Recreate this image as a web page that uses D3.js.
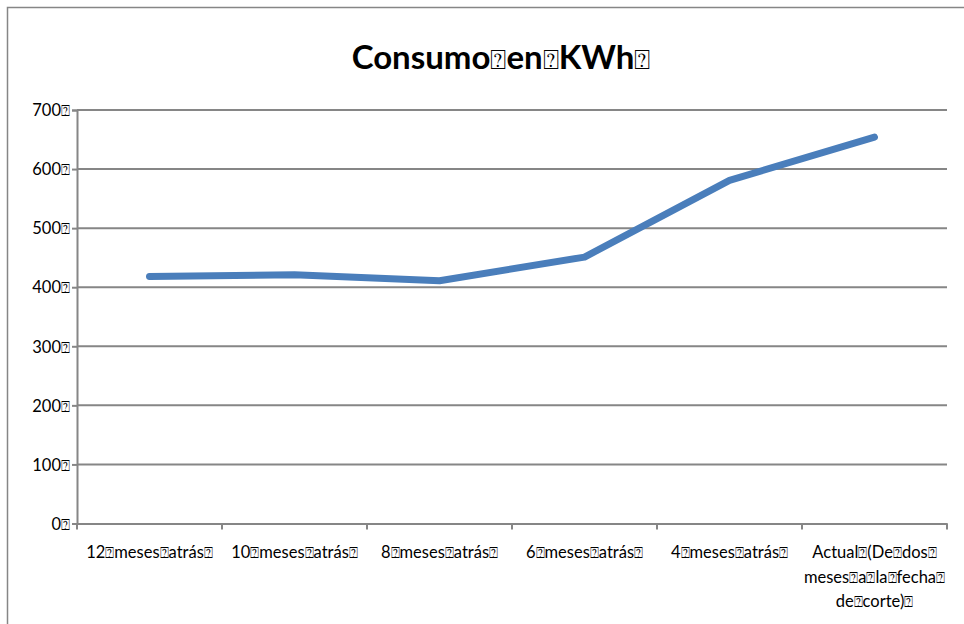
<!DOCTYPE html>
<html>
<head>
<meta charset="utf-8">
<script src="https://cdn.jsdelivr.net/npm/d3@7/dist/d3.min.js"></script>
<style>
  html, body { margin: 0; padding: 0; background: #fff; }
  svg { display: block; }
  text { font-family: Lato, "Open Sans", sans-serif; fill: #000; }
  .bx { font-family: "DejaVu Sans", sans-serif; font-weight: normal; }
</style>
</head>
<body>
<svg id="chart" width="964" height="624"></svg>
<script>
// ---- data ----
const title = "Consumo en KWh";
const categories = ["12 meses atrás", "10 meses atrás", "8 meses atrás", "6 meses atrás", "4 meses atrás", "Actual (De dos meses a la fecha de corte)"];
const categoryLines = [["12 meses atrás"], ["10 meses atrás"], ["8 meses atrás"], ["6 meses atrás"], ["4 meses atrás"], ["Actual (De dos", "meses a la fecha", "de corte)"]];
const values = [418, 421, 411, 451, 581, 654];
const yTicks = [0, 100, 200, 300, 400, 500, 600, 700];

(function() {
const svg = d3.select("#chart");
const pLeft = 77, pRight = 947, pTop = 110, pBottom = 523.5;
const gridColor = "#868686";
const lineColor = "#4a7ebb";
const BOX = "\u2370";

svg.append("rect").attr("x", 7.5).attr("y", 7.5).attr("width", 980).attr("height", 640)
  .attr("fill", "none").attr("stroke", "#868686").attr("stroke-width", 1.5);

const x = d3.scaleBand().domain(categories).range([pLeft, pRight]).paddingInner(0).paddingOuter(0);
const y = d3.scaleLinear().domain([0, 700]).range([pBottom, pTop]);

function boxed(sel, str, boxSize) {
  str.split(" ").forEach(w => {
    sel.append("tspan").text(w);
    sel.append("tspan").attr("class", "bx").attr("font-size", boxSize).text(BOX);
  });
}

svg.append("g").selectAll("line").data(yTicks.filter(d => d > 0)).join("line")
  .attr("x1", pLeft).attr("x2", pRight)
  .attr("y1", d => y(d)).attr("y2", d => y(d))
  .attr("stroke", gridColor).attr("stroke-width", 2);

const yAxis = svg.append("g").attr("transform", `translate(${pLeft},0)`)
  .call(d3.axisLeft(y).tickValues(yTicks).tickSize(5).tickPadding(4).tickFormat(""));
yAxis.select(".domain").attr("stroke", gridColor).attr("stroke-width", 2);
yAxis.selectAll(".tick line").attr("stroke", gridColor).attr("stroke-width", 2);
yAxis.selectAll(".tick text").remove();
yAxis.selectAll(".tick").append("text")
  .attr("x", -7).attr("dy", "0.35em").attr("text-anchor", "end")
  .attr("font-size", 16.5)
  .each(function(d) { boxed(d3.select(this), String(d), 15); });

const xAxis = svg.append("g").attr("transform", `translate(0,${pBottom})`)
  .call(d3.axisBottom(x).tickSize(0).tickFormat(""));
xAxis.select(".domain").attr("stroke", gridColor).attr("stroke-width", 2);
xAxis.selectAll(".tick text").remove();
svg.append("g").selectAll("line").data(categories).join("line")
  .attr("x1", d => x(d) + x.bandwidth()).attr("x2", d => x(d) + x.bandwidth())
  .attr("y1", pBottom).attr("y2", pBottom + 6)
  .attr("stroke", gridColor).attr("stroke-width", 2);
svg.append("line").attr("x1", pLeft).attr("x2", pLeft).attr("y1", pBottom).attr("y2", pBottom + 6)
  .attr("stroke", gridColor).attr("stroke-width", 2);

categories.forEach((c, i) => {
  const cx = x(c) + x.bandwidth() / 2;
  categoryLines[i].forEach((ln, j) => {
    const t = svg.append("text").attr("x", cx).attr("y", 558 + j * 24.5)
      .attr("text-anchor", "middle").attr("font-size", 16.5);
    boxed(t, ln, 15);
  });
});

const line = d3.line().x((d, i) => x(categories[i]) + x.bandwidth() / 2).y(d => y(d));
svg.append("path").datum(values).attr("d", line)
  .attr("fill", "none").attr("stroke", lineColor).attr("stroke-width", 7)
  .attr("stroke-linecap", "round").attr("stroke-linejoin", "round");

const tt = svg.append("text").attr("x", 501).attr("y", 69).attr("text-anchor", "middle")
  .attr("font-size", 33).attr("font-weight", "bold");
boxed(tt, title, 27);
})();
</script>
</body>
</html>
